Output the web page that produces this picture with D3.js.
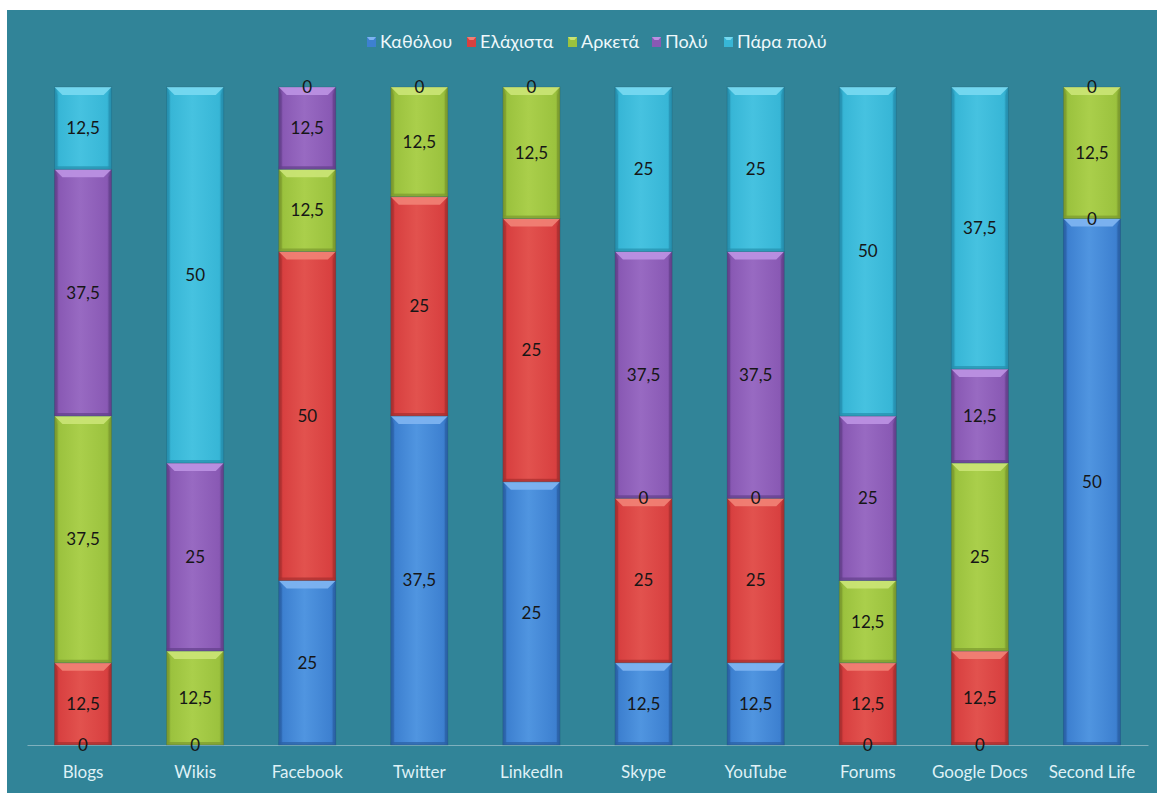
<!DOCTYPE html>
<html><head><meta charset="utf-8">
<script src="https://cdn.jsdelivr.net/npm/d3@7"></script>
<style>
html,body{margin:0;padding:0;background:#fff;}
svg{display:block;}
text{font-family:Lato,"Noto Sans",sans-serif;}
</style></head>
<body>
<svg id="chart" width="1157" height="794"></svg>
<script>
const categories = ["Blogs","Wikis","Facebook","Twitter","LinkedIn","Skype","YouTube","Forums","Google Docs","Second Life"];
const seriesNames = ["Καθόλου","Ελάχιστα","Αρκετά","Πολύ","Πάρα πολύ"];
// null = no value (no label)
const kathólou   = [0,    0,    25,   37.5, 25,   12.5, 12.5, 0,    0,    50];
const elachista  = [12.5, null, 50,   25,   25,   25,   25,   12.5, 12.5, 0];
const arketa     = [37.5, 12.5, 12.5, 12.5, 12.5, 0,    0,    12.5, 25,   12.5];
const poly       = [37.5, 25,   12.5, 0,    0,    37.5, 37.5, 25,   12.5, 0];
const paraPoly   = [12.5, 50,   0,    null, null, 25,   25,   50,   37.5, null];
const seriesValues = [kathólou, elachista, arketa, poly, paraPoly];

const palette = [
  {base:"#3d80d0", light:"#5095e0", dark:"#2a5fa4", bevel:"#7db3f0"},
  {base:"#d84040", light:"#e2524e", dark:"#a62e2e", bevel:"#f07f74"},
  {base:"#9bc23e", light:"#aacf4b", dark:"#7a982d", bevel:"#c9e474"},
  {base:"#8959b4", light:"#986ac2", dark:"#623f8a", bevel:"#bb90e2"},
  {base:"#37b6d6", light:"#46c2e0", dark:"#258ead", bevel:"#76d8f0"}
];

const svg = d3.select("#chart");
const W = 1157, H = 794;
svg.append("rect").attr("x",7).attr("y",10).attr("width",W-7).attr("height",H-10-1).attr("fill","#318498");

const defs = svg.append("defs");
palette.forEach((p,i)=>{
  const g = defs.append("linearGradient").attr("id","g"+i).attr("x1","0").attr("x2","1").attr("y1","0").attr("y2","0");
  g.append("stop").attr("offset","0%").attr("stop-color",p.dark);
  g.append("stop").attr("offset","8%").attr("stop-color",p.base);
  g.append("stop").attr("offset","45%").attr("stop-color",p.light);
  g.append("stop").attr("offset","92%").attr("stop-color",p.base);
  g.append("stop").attr("offset","100%").attr("stop-color",p.dark);
});

const plotTop = 87, plotBottom = 745, plotLeft = 27, plotRight = 1148;
const x = d3.scaleBand().domain(categories).range([plotLeft,plotRight]).paddingInner(0.49).paddingOuter(0.245);
const y = d3.scaleLinear().domain([0,100]).range([plotBottom,plotTop]);
const fmt = v => String(v).replace(".",",");

// axis
const xAxis = d3.axisBottom(x).tickSize(0).tickPadding(21);
const ax = svg.append("g").attr("transform",`translate(0,${plotBottom})`).call(xAxis);
ax.select(".domain").attr("stroke","#7fb0bd").attr("stroke-width",1.2);
ax.selectAll("text").attr("fill","#dff1f6").attr("font-size",17).attr("font-family","Lato,'Noto Sans',sans-serif");

const barsG = svg.append("g");
const labelsG = svg.append("g");

categories.forEach((c,ci)=>{
  const total = d3.sum(seriesValues, s => s[ci] || 0);
  let cum = 0;
  const bw = x.bandwidth(), x0 = x(c), x1 = x0 + bw;
  seriesValues.forEach((s,si)=>{
    const v = s[ci];
    if (v === null) return;
    const p0 = cum/total*100, p1 = (cum+v)/total*100;
    cum += v;
    const yb = y(p0), yt = y(p1);
    const cx = x0 + bw/2;
    if (v > 0) {
      const pal = palette[si];
      const g = barsG.append("g");
      g.append("rect").attr("x",x0).attr("y",yt).attr("width",bw).attr("height",yb-yt).attr("fill",`url(#g${si})`);
      const bh = Math.min(8, (yb-yt)/2), bi = 8;
      g.append("path").attr("d",`M${x0},${yt}L${x1},${yt}L${x1-bi},${yt+bh}L${x0+bi},${yt+bh}Z`).attr("fill",pal.bevel).attr("opacity",0.95);
      g.append("path").attr("d",`M${x0},${yt}L${x0+3},${yt+bh}L${x0+3},${yb-3}L${x0},${yb}Z`).attr("fill",pal.dark).attr("opacity",0.6);
      g.append("path").attr("d",`M${x1},${yt}L${x1-3},${yt+bh}L${x1-3},${yb-3}L${x1},${yb}Z`).attr("fill",pal.dark).attr("opacity",0.6);
      g.append("rect").attr("x",x0).attr("y",yb-3).attr("width",bw).attr("height",3).attr("fill",pal.dark).attr("opacity",0.7);
      g.append("rect").attr("x",x0).attr("y",yt).attr("width",bw).attr("height",yb-yt).attr("fill","none").attr("stroke","#1d5a6a").attr("stroke-opacity",0.35).attr("stroke-width",0.8);
    }
    labelsG.append("text").attr("x",cx).attr("y",(yt+yb)/2).attr("dy","0.35em")
      .attr("text-anchor","middle").attr("font-size",17).attr("fill","#161616").text(fmt(v));
  });
});

// legend
const legendX = [367, 467, 568, 652, 724];
const lg = svg.append("g");
seriesNames.forEach((n,i)=>{
  const pal = palette[i];
  const g = lg.append("g").attr("transform",`translate(${legendX[i]},37)`);
  g.append("rect").attr("width",9).attr("height",10).attr("fill",pal.base);
  g.append("path").attr("d","M0,0L9,0L6.5,3L2.5,3Z").attr("fill",pal.bevel);
  g.append("text").attr("x",13).attr("y",5).attr("dy","0.36em").attr("font-size",18).attr("fill","#eef8fb").text(n);
});
</script>
</body></html>
